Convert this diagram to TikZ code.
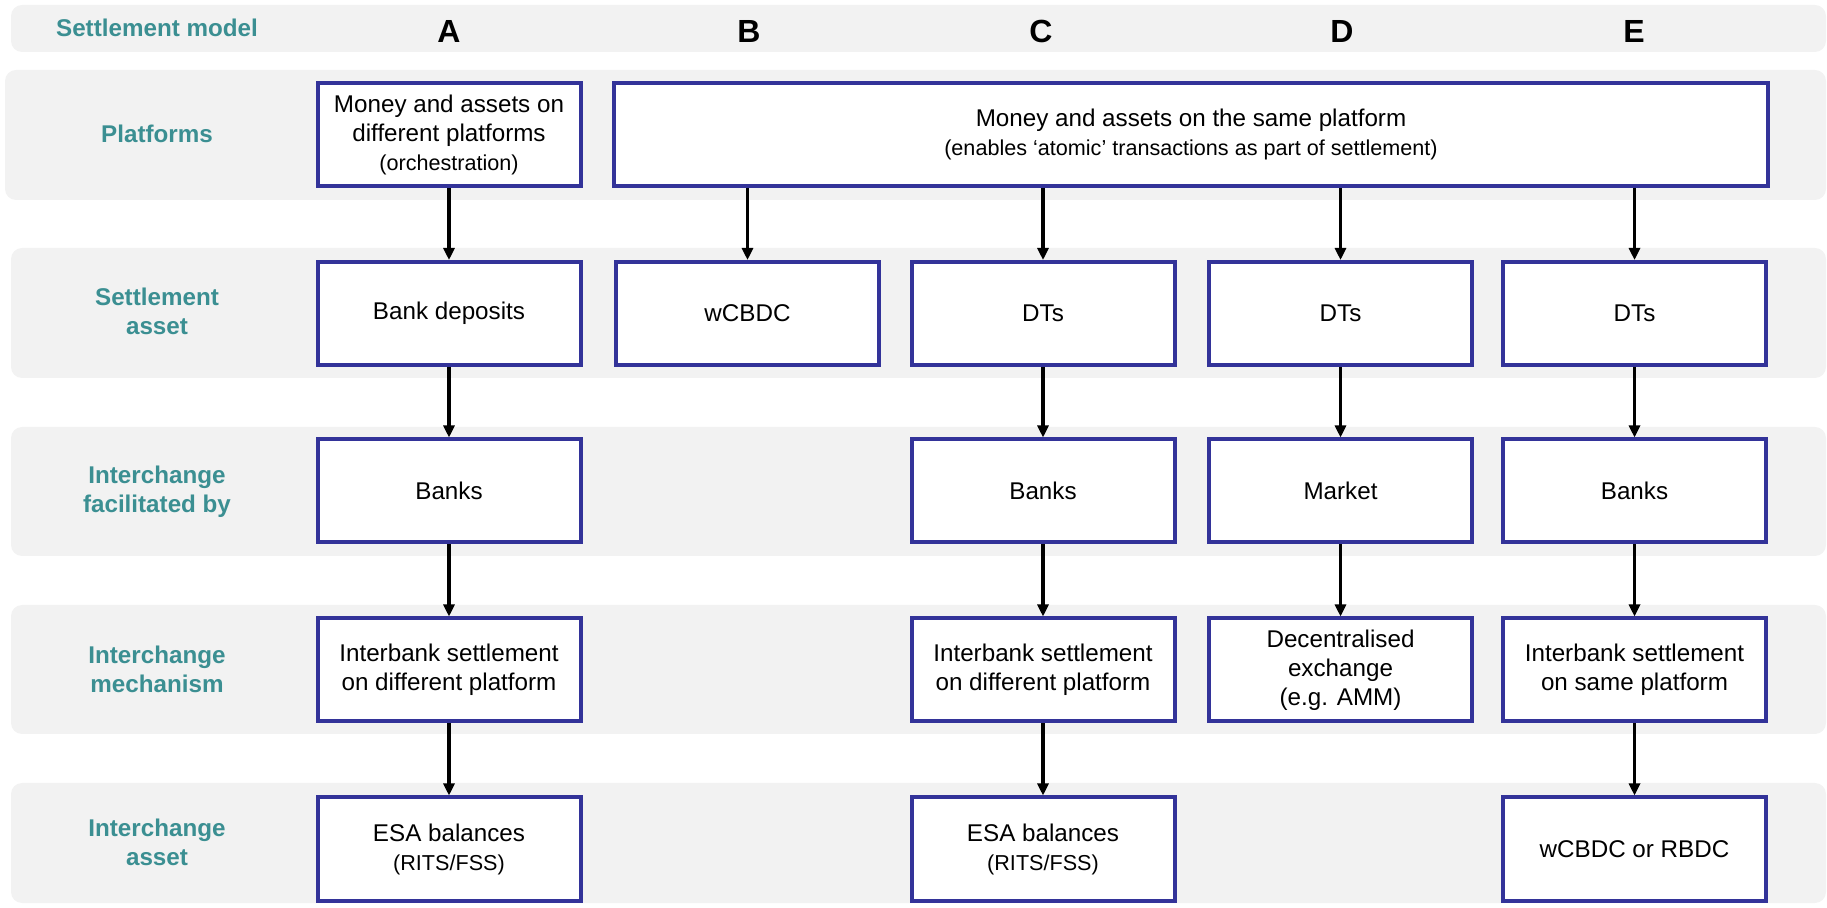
\documentclass[tikz,border=0pt]{standalone}
\usepackage{fontspec}
\setmainfont{Liberation Sans}
\usetikzlibrary{arrows.meta}
\definecolor{bandgray}{RGB}{242,242,242}
\definecolor{labelteal}{RGB}{59,143,146}
\definecolor{boxblue}{RGB}{51,51,153}
\newcommand{\smallf}{\fontsize{10.8}{12.5}\selectfont}
\begin{document}
\begin{tikzpicture}[x=0.5pt,y=-0.5pt,
  bandbox/.style={fill=bandgray, draw=none, rounded corners=5.5pt},
  rowlabel/.style={font=\fontsize{12.1}{14.5}\selectfont\bfseries, text=labelteal, align=center},
  colletter/.style={font=\fontsize{16}{19}\selectfont\bfseries},
  cell/.style={draw=boxblue, line width=2pt, fill=white, minimum width=131.5pt, minimum height=51.5pt, inner sep=0pt, align=center, font=\fontsize{12.1}{14.5}\selectfont},
  flow/.style={line width=1.8pt, -{Triangle[length=6pt,width=5.5pt]}}
]
\useasboundingbox (0,0) rectangle (1827,908);
% bands
\path[bandbox] (11,5) rectangle (1826,52);
\path[bandbox] (5,70) rectangle (1826,200);
\path[bandbox] (11,248) rectangle (1826,378);
\path[bandbox] (11,427) rectangle (1826,556);
\path[bandbox] (11,605) rectangle (1826,734);
\path[bandbox] (11,783) rectangle (1826,903);
% row labels
\node[rowlabel] (lm) at (157,28) {Settlement model};
\node[rowlabel] (lp) at (157,134) {Platforms};
\node[rowlabel] (ls) at (157,311) {Settlement\\asset};
\node[rowlabel] (lf) at (157,492) {Interchange\\facilitated by};
\node[rowlabel] (lmech) at (157,669) {Interchange\\mechanism};
\node[rowlabel] (la) at (157,842) {Interchange\\asset};
% column letters
\node[colletter] (hA) at (449,31) {A};
\node[colletter] (hB) at (749,31) {B};
\node[colletter] (hC) at (1041,31) {C};
\node[colletter] (hD) at (1342,31) {D};
\node[colletter] (hE) at (1634,31) {E};
% row 1
\node[cell] (a1) at (449,134.5) {Money and assets on\\different platforms\\{\smallf (orchestration)}};
\node[cell, minimum width=577pt] (p) at (1191,134.5) {Money and assets on the same platform\\{\smallf (enables ‘atomic’ transactions as part of settlement)}};
% row 2
\node[cell] (a2) at (449,313.5) {Bank deposits};
\node[cell] (b2) at (747.5,313.5) {wCBDC};
\node[cell] (c2) at (1043,313.5) {DTs};
\node[cell] (d2) at (1340.5,313.5) {DTs};
\node[cell] (e2) at (1634.5,313.5) {DTs};
% row 3
\node[cell] (a3) at (449,491) {Banks};
\node[cell] (c3) at (1043,491) {Banks};
\node[cell] (d3) at (1340.5,491) {Market};
\node[cell] (e3) at (1634.5,491) {Banks};
% row 4
\node[cell] (a4) at (449,670) {Interbank settlement\\on different platform};
\node[cell] (c4) at (1043,670) {Interbank settlement\\on different platform};
\node[cell] (d4) at (1340.5,670) {Decentralised\\exchange\\(e.g. AMM)};
\node[cell] (e4) at (1634.5,670) {Interbank settlement\\on same platform};
% row 5
\node[cell] (a5) at (449,849) {ESA balances\\{\smallf (RITS/FSS)}};
\node[cell] (c5) at (1043,849) {ESA balances\\{\smallf (RITS/FSS)}};
\node[cell] (e5) at (1634.5,849) {wCBDC or RBDC};
% arrows
\draw[flow] (a1.south) -- (a2.north);
\draw[flow] (a2.south) -- (a3.north);
\draw[flow] (a3.south) -- (a4.north);
\draw[flow] (a4.south) -- (a5.north);
\draw[flow] (p.south -| b2.north) -- (b2.north);
\draw[flow] (p.south -| c2.north) -- (c2.north);
\draw[flow] (p.south -| d2.north) -- (d2.north);
\draw[flow] (p.south -| e2.north) -- (e2.north);
\draw[flow] (c2.south) -- (c3.north);
\draw[flow] (c3.south) -- (c4.north);
\draw[flow] (c4.south) -- (c5.north);
\draw[flow] (d2.south) -- (d3.north);
\draw[flow] (d3.south) -- (d4.north);
\draw[flow] (e2.south) -- (e3.north);
\draw[flow] (e3.south) -- (e4.north);
\draw[flow] (e4.south) -- (e5.north);
\end{tikzpicture}
\end{document}
